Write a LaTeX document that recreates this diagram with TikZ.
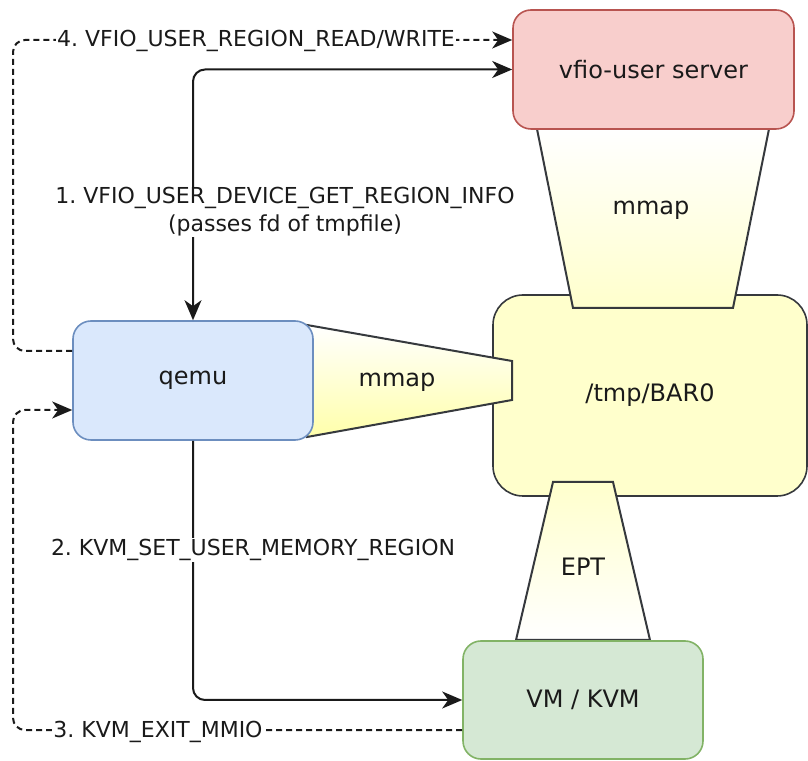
\documentclass[tikz,border=0pt]{standalone}
\usepackage{fontspec}
\setmainfont{DejaVu Sans}
\frenchspacing
\usetikzlibrary{arrows.meta}
\definecolor{srvfill}{HTML}{F8CECC}\definecolor{srvdraw}{HTML}{B85450}
\definecolor{qfill}{HTML}{DAE8FC}\definecolor{qdraw}{HTML}{6C8EBF}
\definecolor{vmfill}{HTML}{D5E8D4}\definecolor{vmdraw}{HTML}{82B366}
\definecolor{barfill}{HTML}{FFFFCC}\definecolor{bardraw}{HTML}{36393D}
\definecolor{ylw}{HTML}{FFFFAA}
\definecolor{ink}{HTML}{1A1A1A}
\tikzset{
  box/.style={draw, line width=1.6pt, minimum width=#1, inner sep=0pt, text=ink, font=\fontsize{24}{28}\selectfont},
  lbl/.style={fill=white, inner sep=1pt, align=center, text=ink, font=\fontsize{22}{28}\selectfont},
  trlbl/.style={text=ink, font=\fontsize{24}{28}\selectfont},
  trap/.style={draw=bardraw, line width=2pt, line join=miter},
  conn/.style={draw=ink, line width=2pt},
  rc/.style={rounded corners=12pt},
  tip/.style={-{Stealth[length=20pt,width=17pt,inset=6pt]}},
  dtip/.style={{Stealth[length=20pt,width=17pt,inset=6pt]}-{Stealth[length=20pt,width=17pt,inset=6pt]}},
  dsh/.style={dash pattern=on 6pt off 4pt},
}
\begin{document}
\begin{tikzpicture}[x=1pt,y=1pt]
\useasboundingbox (0,0) rectangle (808,760);
% BAR0
\node[box=314pt, minimum height=201pt, fill=barfill, draw=bardraw, rounded corners=30pt] (bar) at (650,364.5) {/tmp/BAR0};
% trapezoids
\draw[trap, top color=white, bottom color=barfill] (537,631) -- (769,631) -- (733,452) -- (573,452) -- cycle;
\node[trlbl] (mm1) at (651,550) {mmap};
\draw[trap, top color=white, bottom color=ylw] (307,435) -- (512,399) -- (512,360) -- (307,323) -- cycle;
\node[trlbl] (mm2) at (397,378) {mmap};
\draw[trap, top color=barfill, bottom color=white] (553,278) -- (613,278) -- (650,120) -- (516,120) -- cycle;
\node[trlbl] (ept) at (583,193) {EPT};
% boxes
\node[box=281pt, minimum height=119pt, fill=srvfill, draw=srvdraw, rounded corners=18pt] (srv) at (653.5,690.5) {vfio-user server};
\node[box=240pt, minimum height=119pt, fill=qfill, draw=qdraw, rounded corners=18pt] (qemu) at (193,379.5) {qemu};
\node[box=240pt, minimum height=118pt, fill=vmfill, draw=vmdraw, rounded corners=18pt] (vm) at (583,60) {VM / KVM};
% lanes
\coordinate (laneA) at (13,600);
\coordinate (laneB) at (13,200);
% connectors
\draw[conn, dtip] (qemu.north) [rc] |- (srv.west);
\draw[conn, tip] (qemu.south) [rc] |- (vm.west);
\draw[conn, dsh, tip] ([yshift=29.5pt]qemu.west) [rc] -| (laneA) |- ([yshift=29.5pt]srv.west);
\draw[conn, dsh, tip] ([yshift=-30pt]vm.west) [rc] -| (laneB) |- ([yshift=-29.5pt]qemu.west);
% labels
\node[lbl] (l1) at (285,548) {1. VFIO\_USER\_DEVICE\_GET\_REGION\_INFO\\(passes fd of tmpfile)};
\node[lbl] (l2) at (253,210) {2. KVM\_SET\_USER\_MEMORY\_REGION};
\node[lbl] (l3) at (158,28) {3. KVM\_EXIT\_MMIO};
\node[lbl] (l4) at (256,719) {4. VFIO\_USER\_REGION\_READ/WRITE};
\end{tikzpicture}
\end{document}
